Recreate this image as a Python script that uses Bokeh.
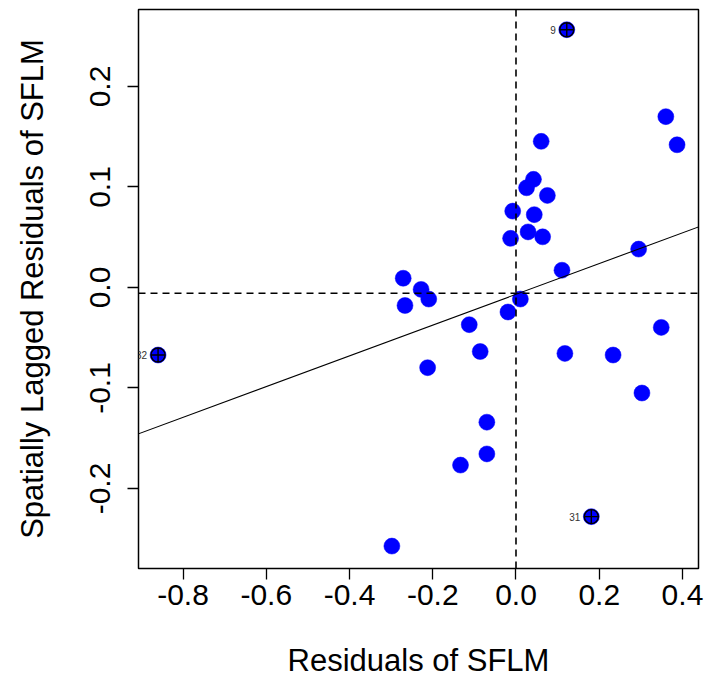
from bokeh.plotting import figure
from bokeh.models import Range1d, Span, Slope, FixedTicker, ColumnDataSource, PrintfTickFormatter
from bokeh.core.properties import value
from bokeh.embed import file_html
from bokeh.resources import INLINE

# Residuals of SFLM (x) and spatially lagged residuals (y)
resid = [0.122, -0.860, 0.181, 0.360, 0.387, 0.0605, 0.042, 0.0254, 0.0754, -0.0079,
         0.0439, 0.029, 0.064, -0.013, 0.2947, 0.1105, -0.271, -0.228, -0.2667, -0.2096,
         0.0105, -0.0193, -0.1123, 0.349, -0.086, 0.1175, 0.2333, -0.2123, 0.3026, -0.070,
         -0.070, -0.1333, -0.2982]
lagged = [0.2565, -0.0672, -0.228, 0.170, 0.142, 0.1454, 0.1076, 0.0992, 0.0916, 0.076,
          0.0725, 0.0553, 0.0504, 0.0489, 0.0382, 0.0172, 0.0092, -0.0019, -0.0179, -0.0115,
          -0.0115, -0.0244, -0.037, -0.0397, -0.0637, -0.0656, -0.0672, -0.0798, -0.105, -0.134,
          -0.1656, -0.1767, -0.2573]

# influential observations
flag_x = [0.122, 0.181, -0.860]
flag_y = [0.2565, -0.228, -0.0672]
flag_id = ["9", "31", "32"]

# reference lines
mean_x = 0.0
mean_y = -0.0057
fit_slope = 0.153
fit_intercept = -0.0068

x_ticks = [-0.8, -0.6, -0.4, -0.2, 0.0, 0.2, 0.4]
y_ticks = [-0.2, -0.1, 0.0, 0.1, 0.2]

FONT = "Liberation Sans"

p = figure(width=705, height=683, output_backend="svg", toolbar_location=None,
           x_range=Range1d(-0.907, 0.4385), y_range=Range1d(-0.2796, 0.2766),
           min_border_left=138, min_border_right=7, min_border_top=9, min_border_bottom=115,
           x_axis_label="Residuals of SFLM", y_axis_label="Spatially Lagged Residuals of SFLM")
p.grid.visible = False
p.outline_line_color = "black"
p.outline_line_width = 1.5
p.background_fill_color = "white"
p.border_fill_color = "white"

p.xaxis.ticker = FixedTicker(ticks=x_ticks)
p.yaxis.ticker = FixedTicker(ticks=y_ticks)
for ax in (p.xaxis, p.yaxis):
    ax.formatter = PrintfTickFormatter(format="%.1f")
    ax.axis_line_color = None
    ax.major_tick_in = 0
    ax.major_tick_out = 11
    ax.major_tick_line_width = 1.3
    ax.major_tick_line_color = "black"
    ax.minor_tick_line_color = None
    ax.major_label_text_font = FONT
    ax.major_label_text_font_size = "30px"
    ax.major_label_text_color = "black"
    ax.axis_label_text_font = FONT
    ax.axis_label_text_font_size = "31px"
    ax.axis_label_text_font_style = "normal"
    ax.axis_label_text_color = "black"
p.xaxis.major_label_standoff = 5
p.xaxis.axis_label_standoff = 35
p.yaxis.major_label_orientation = "vertical"
p.yaxis.major_label_standoff = 17
p.yaxis.axis_label_standoff = 38

p.add_layout(Span(location=mean_x, dimension="height", line_color="black",
                  line_width=1.6, line_dash="7 5"))
p.add_layout(Span(location=mean_y, dimension="width", line_color="black",
                  line_width=1.6, line_dash="7 5"))
p.add_layout(Slope(gradient=fit_slope, y_intercept=fit_intercept,
                   line_color="black", line_width=1.1))

src = ColumnDataSource(dict(x=resid, y=lagged))
p.scatter("x", "y", source=src, marker="circle", size=16, fill_color="#0000FF",
          line_color="#0000FF", line_width=0.5)

fsrc = ColumnDataSource(dict(x=flag_x, y=flag_y, id=flag_id))
p.scatter("x", "y", source=fsrc, marker="circle_cross", size=14, fill_alpha=0,
          line_color="black", line_width=1.4)
p.text("x", "y", text="id", source=fsrc, text_align="right", text_baseline="middle",
       x_offset=-11, text_font=value(FONT), text_font_size="10px", text_color="#333333")

open("out.html", "w").write(file_html(p, INLINE))
